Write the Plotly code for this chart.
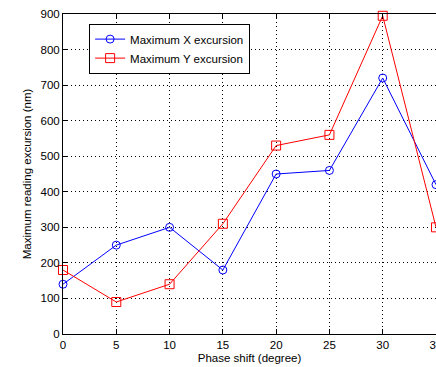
import plotly.graph_objects as go

phase_shift = [0, 5, 10, 15, 20, 25, 30, 35]
max_x_excursion = [140, 250, 300, 180, 450, 460, 720, 420]
max_y_excursion = [180, 90, 140, 310, 530, 560, 895, 300]
x_ticks = [0, 5, 10, 15, 20, 25, 30, 35]
y_ticks = [0, 100, 200, 300, 400, 500, 600, 700, 800, 900]

font = dict(family="Liberation Sans, Arial, sans-serif", size=11.5, color="#000000")

fig = go.Figure()
fig.add_trace(go.Scatter(
    x=phase_shift, y=max_x_excursion, mode="lines+markers",
    name="Maximum X excursion",
    line=dict(color="#0000ff", width=1),
    marker=dict(symbol="circle-open", size=8, color="#0000ff", line=dict(width=1)),
    cliponaxis=False,
))
fig.add_trace(go.Scatter(
    x=phase_shift, y=max_y_excursion, mode="lines+markers",
    name="Maximum Y excursion",
    line=dict(color="#ff0000", width=1),
    marker=dict(symbol="square-open", size=9, color="#ff0000", line=dict(width=1)),
    cliponaxis=False,
))

axis_common = dict(
    showline=True, linecolor="#000000", linewidth=1,
    ticks="inside", ticklen=5, tickcolor="#000000",
    showgrid=True, gridcolor="#000000", gridwidth=1, griddash="1px,3px",
    zeroline=False, tickfont=font, ticklabeloverflow="allow", automargin=False,
)

fig.update_layout(
    width=436, height=367,
    margin=dict(l=63, r=0, t=14, b=33, autoexpand=False),
    paper_bgcolor="#ffffff", plot_bgcolor="#ffffff",
    font=font,
    showlegend=True,
    legend=dict(
        x=0.07, y=0.97, xanchor="left", yanchor="top",
        bgcolor="#ffffff", bordercolor="#000000", borderwidth=1,
        font=font, itemwidth=30, tracegroupgap=0,
    ),
    xaxis=dict(
        range=[0, 35], tickvals=x_ticks, mirror="ticks",
        title=dict(text="Phase shift (degree)", font=font, standoff=4),
        **axis_common,
    ),
    yaxis=dict(
        range=[0, 900], tickvals=y_ticks, mirror=False,
        title=dict(text="Maximum reading excursion (nm)", font=font, standoff=6),
        **axis_common,
    ),
)

fig.write_html("out.html")
